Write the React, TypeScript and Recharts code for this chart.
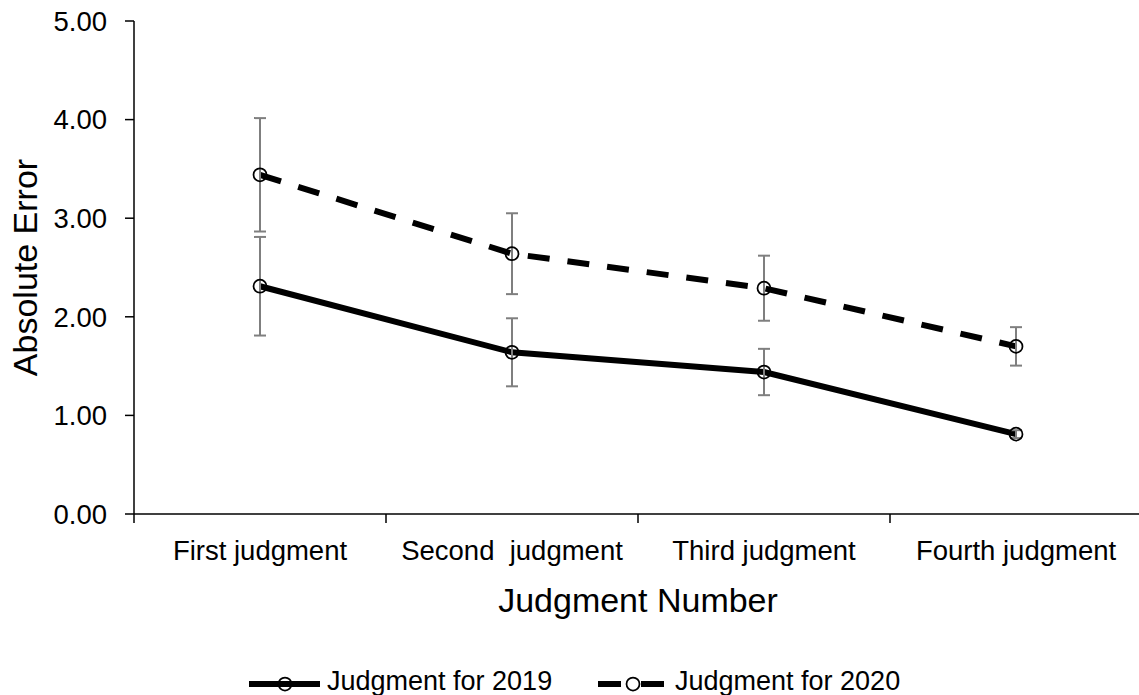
import React from 'react';
import { ComposedChart, Line, XAxis, YAxis, ErrorBar, Legend } from 'recharts';

// Judgment categories and their positions on the numeric x scale (band centres)
const categories = ['First judgment', 'Second\u00A0 judgment', 'Third judgment', 'Fourth judgment'];
const categoryPositions = [0.5, 1.5, 2.5, 3.5];
const boundaryTicks = [0, 1, 2, 3, 4];
const yTicks = [0, 1, 2, 3, 4, 5];

// Mean absolute error and error-bar half widths per judgment
const mean2019 = [2.31, 1.64, 1.44, 0.81];
const err2019 = [0.5, 0.345, 0.235, 0.04];
const mean2020 = [3.44, 2.64, 2.29, 1.7];
const err2020 = [0.575, 0.41, 0.33, 0.195];

const data = categories.map((name, i) => ({
  name,
  pos: categoryPositions[i],
  y2019: mean2019[i],
  e2019: err2019[i],
  y2020: mean2020[i],
  e2020: err2020[i],
}));

const FONT = '"Liberation Sans", Arial, sans-serif';
const BLACK = '#000000';
const GREY = '#7f7f7f';

const YTitle = (props: any) => {
  const vb = props.viewBox || {};
  const cy = vb.y + vb.height / 2;
  return (
    <text
      transform={`translate(37, ${cy}) rotate(-90)`}
      textAnchor="middle"
      fontFamily={FONT}
      fontSize={34}
      fill={BLACK}
    >
      Absolute Error
    </text>
  );
};

const XTitle = (props: any) => {
  const vb = props.viewBox || {};
  const cx = vb.x + vb.width / 2;
  return (
    <text x={cx} y={612} textAnchor="middle" fontFamily={FONT} fontSize={34} fill={BLACK}>
      Judgment Number
    </text>
  );
};

const LegendContent = () => (
  <svg width={1150} height={40} style={{ display: 'block' }}>
    <line x1={249} x2={320} y1={24} y2={24} stroke={BLACK} strokeWidth={6} />
    <circle cx={285} cy={24} r={6.5} fill="none" stroke={BLACK} strokeWidth={1.75} />
    <text x={327} y={30} fontFamily={FONT} fontSize={27} fill={BLACK}>
      Judgment for 2019
    </text>
    <line x1={598} x2={664} y1={24} y2={24} stroke={BLACK} strokeWidth={6} strokeDasharray="23 20" />
    <circle cx={633} cy={24} r={6.5} fill="#fff" stroke={BLACK} strokeWidth={1.75} />
    <text x={675} y={30} fontFamily={FONT} fontSize={27} fill={BLACK}>
      Judgment for 2020
    </text>
  </svg>
);

const dotStyle = { r: 6.5, fill: 'none', stroke: BLACK, strokeWidth: 1.75 };

export default function App() {
  return (
    <div style={{ position: 'absolute', left: 0, top: 0, width: 1139, height: 695, overflow: 'hidden', background: '#fff' }}>
      <ComposedChart
        width={1150}
        height={695}
        data={data}
        margin={{ top: 21, right: 8, bottom: 0, left: 0 }}
      >
        <YAxis
          type="number"
          domain={[0, 5]}
          ticks={yTicks}
          interval={0}
          width={134}
          tickFormatter={(v: number) => v.toFixed(2)}
          tickSize={9}
          tickMargin={18}
          axisLine={{ stroke: BLACK, strokeWidth: 1.5 }}
          tickLine={{ stroke: BLACK, strokeWidth: 1.5 }}
          tick={{ fill: BLACK, fontSize: 27.5, fontFamily: FONT }}
          label={<YTitle />}
        />
        <XAxis
          xAxisId="bounds"
          type="number"
          dataKey="pos"
          domain={[0, 4]}
          ticks={boundaryTicks}
          interval={0}
          height={10}
          tickSize={9}
          tickFormatter={() => ''}
          axisLine={{ stroke: BLACK, strokeWidth: 1.5 }}
          tickLine={{ stroke: BLACK, strokeWidth: 1.5 }}
          allowDataOverflow
        />
        <XAxis
          xAxisId="labels"
          type="number"
          dataKey="pos"
          domain={[0, 4]}
          ticks={categoryPositions}
          interval={0}
          height={171}
          tickSize={0}
          tickMargin={16}
          axisLine={false}
          tickLine={false}
          tickFormatter={(v: number) => categories[categoryPositions.indexOf(v)] ?? ''}
          tick={{ fill: BLACK, fontSize: 27.5, fontFamily: FONT }}
          label={<XTitle />}
          allowDataOverflow
        />
        <Line
          xAxisId="bounds"
          type="linear"
          dataKey="y2019"
          stroke={BLACK}
          strokeWidth={6}
          dot={dotStyle}
          activeDot={false}
          isAnimationActive={false}
        />
        <Line
          xAxisId="bounds"
          type="linear"
          dataKey="y2020"
          stroke={BLACK}
          strokeWidth={6}
          strokeDasharray="22 18"
          dot={{ ...dotStyle, strokeDasharray: '' }}
          activeDot={false}
          isAnimationActive={false}
        />
        <Line
          xAxisId="bounds"
          dataKey="y2019"
          stroke="none"
          dot={false}
          activeDot={false}
          legendType="none"
          isAnimationActive={false}
        >
          <ErrorBar dataKey="e2019" direction="y" width={6} strokeWidth={2} stroke={GREY} isAnimationActive={false} />
        </Line>
        <Line
          xAxisId="bounds"
          dataKey="y2020"
          stroke="none"
          dot={false}
          activeDot={false}
          legendType="none"
          isAnimationActive={false}
        >
          <ErrorBar dataKey="e2020" direction="y" width={6} strokeWidth={2} stroke={GREY} isAnimationActive={false} />
        </Line>
        <Legend
          layout="horizontal"
          verticalAlign="middle"
          align="center"
          wrapperStyle={{ top: 660, left: 0, width: 1150, height: 40 }}
          content={<LegendContent />}
        />
      </ComposedChart>
    </div>
  );
}
